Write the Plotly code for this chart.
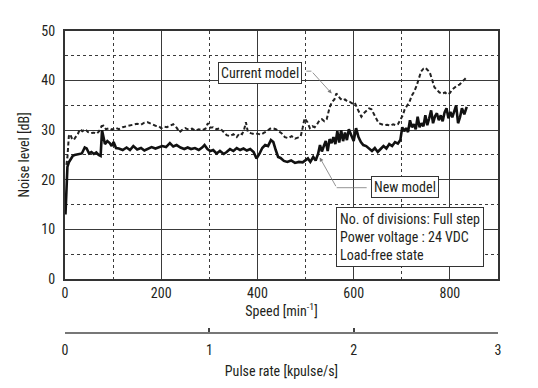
import plotly.graph_objects as go

# ---- data ----
new_x = [1, 3, 5, 8, 12, 16, 20, 25, 30, 35, 41, 45, 50, 55, 60, 65, 70, 74, 77, 80,
         83, 88, 93, 97, 101, 106, 112, 120, 128, 135, 142, 150, 158, 165, 172, 180, 188, 195, 202, 210,
         218, 225, 232, 240, 248, 255, 262, 270, 278, 285, 290, 296, 302, 308, 315, 322, 330, 336, 343, 350,
         357, 364, 371, 378, 385, 392, 398, 404, 410, 416, 422, 428, 433, 438, 443, 448, 455, 462, 470, 478,
         486, 494, 500, 505, 510, 516, 521, 526, 530, 534, 538, 542, 546, 550, 554, 558, 562, 566, 570, 574,
         578, 582, 586, 590, 595, 600, 605, 610, 615, 620, 626, 632, 638, 644, 650, 656, 662, 668, 674, 680,
         686, 692, 697, 701, 705, 709, 713, 717, 721, 725, 729, 733, 737, 741, 745, 749, 753, 757, 761, 765,
         769, 773, 777, 781, 785, 789, 793, 797, 801, 805, 809, 813, 817, 821, 825, 830, 835]
new_y = [13, 18, 22.6, 23.5, 24.2, 24.8, 25, 25.1, 25.2, 25.3, 26.5, 26.3, 25.3, 25.6, 25.2, 25.5, 25, 24.8, 30, 28.5,
         27.2, 27.8, 27.4, 26.8, 27.6, 26.4, 26.3, 26, 26.5, 26, 26.8, 26.1, 26.4, 25.9, 26.2, 26.6, 26.3, 26.5, 26.8, 26.6,
         27.4, 26.7, 27, 26.5, 26.2, 26.5, 26.2, 26.4, 26, 26.5, 27, 26.2, 25.8, 26, 25.3, 25.8, 25.2, 25.6, 26.2, 25.8,
         26.4, 26, 26.3, 25.9, 26.2, 25.6, 24.3, 25.2, 26.4, 27, 26.8, 28, 27.6, 26, 24.6, 24.4, 23.8, 23.6, 23.9, 23.4,
         23.6, 23.5, 23.9, 24.3, 23.6, 24.6, 23.9, 25.2, 27, 25.7, 26.8, 27.8, 25.8, 28.2, 27.4, 28.6, 27.2, 29.8, 27.5, 30,
         27.8, 29.5, 28, 30.2, 29, 27.8, 30.4, 28.6, 27.6, 27, 26.8, 26.2, 25.8, 26.4, 25.6, 26.2, 26.8, 26.3, 27.2, 26.8,
         27.6, 27.3, 28, 30.6, 29.8, 30.4, 29.6, 32, 30.6, 31.2, 30.2, 32.7, 30.6, 31.4, 30.8, 33, 31, 32.4, 34, 31.4,
         32.8, 33.4, 32, 33, 31.8, 33.6, 34.4, 32.4, 33.7, 32.6, 34, 35, 31.4, 32.6, 34.4, 33.2, 34.7]

cur_x = [3, 5, 8, 11, 14, 18, 22, 27, 31, 36, 42, 48, 54, 60, 66, 71, 76, 80, 85, 92,
         98, 105, 112, 120, 128, 135, 142, 150, 158, 165, 172, 180, 188, 195, 200, 206, 212, 218, 225, 232,
         238, 243, 250, 257, 264, 271, 278, 285, 292, 297, 302, 308, 315, 322, 329, 336, 343, 350, 357, 363,
         368, 372, 376, 380, 386, 393, 400, 407, 414, 420, 426, 432, 438, 444, 450, 457, 464, 471, 478, 484,
         490, 494, 498, 504, 509, 514, 519, 524, 529, 534, 539, 544, 550, 555, 560, 564, 568, 572, 577, 582,
         587, 592, 597, 602, 606, 611, 616, 621, 626, 632, 637, 642, 647, 652, 658, 664, 670, 676, 682, 688,
         692, 697, 702, 706, 711, 716, 721, 726, 731, 735, 740, 745, 749, 753, 758, 763, 768, 773, 778, 784,
         790, 795, 800, 805, 810, 815, 820, 825, 830, 835]
cur_y = [23, 24.5, 28.8, 29.2, 28.4, 28, 28.6, 29.3, 30.2, 29.8, 30.2, 29.6, 29.4, 29.5, 29.3, 29.8, 30.8, 30.9, 30.2, 30.4,
         30.1, 30.5, 30.2, 30.6, 30.8, 31, 31.2, 31.3, 31.1, 31.5, 31.6, 31.2, 30.9, 30.8, 30.4, 30.7, 30.6, 30.9, 31.2, 30.5,
         29.6, 30, 30.4, 30.1, 30.3, 29.9, 30.2, 30, 30.3, 31.4, 30.5, 30.6, 30.2, 30.4, 29.7, 29, 28.8, 29.2, 28.6, 29.4,
         29.2, 30, 31.6, 29.7, 29.4, 29.2, 29.3, 29.1, 29.5, 29.8, 30.3, 30.4, 30.2, 29.8, 29.4, 28.6, 28.4, 28.8, 28.3, 28.5,
         28.8, 30.5, 32.4, 31.6, 30.4, 30.8, 30.6, 31.2, 32, 32.2, 31.8, 32.2, 34.6, 35.7, 36.2, 37.4, 36.8, 36.4, 36, 36.2,
         35.8, 35.7, 35.4, 35.6, 34.7, 33.6, 32.7, 33.4, 33.8, 34.4, 34.2, 33.2, 32.4, 31.4, 31.2, 31, 31.1, 30.9, 31.2, 31,
         31.2, 32, 33, 34.2, 35, 35.7, 37, 37.8, 39, 40.5, 41.8, 42.4, 42.6, 42.2, 41.7, 40.2, 38.6, 38.2, 37.6, 37.4,
         37.6, 37.2, 37.5, 38.2, 38.6, 39, 39.2, 39.8, 40.2, 40.7]

assert len(new_x) == len(new_y), (len(new_x), len(new_y))
assert len(cur_x) == len(cur_y), (len(cur_x), len(cur_y))

speed_range = [0, 900]
noise_range = [0, 50]
pulse_range = [0, 3]

FONT = "Liberation Sans Narrow, Roboto Condensed, Arial Narrow, Liberation Sans, sans-serif"
TXT = "#231f20"
GRID = "#3a3a3a"

fig = go.Figure()
fig.add_trace(go.Scatter(x=cur_x, y=cur_y, mode="lines", name="Current model",
                         line=dict(color="#222", width=2, dash="4px,2.5px"), hoverinfo="skip"))
fig.add_trace(go.Scatter(x=new_x, y=new_y, mode="lines", name="New model",
                         line=dict(color="#111", width=2.6), hoverinfo="skip"))
# carrier for the pulse-rate axis
fig.add_trace(go.Scatter(x=pulse_range, y=[-10, -10], xaxis="x2", mode="lines",
                         line=dict(width=0), showlegend=False, hoverinfo="skip"))

ann = []
box = dict(bordercolor="#333", borderwidth=1, bgcolor="white", borderpad=2,
           font=dict(family=FONT, size=14, color=TXT))
ann.append(dict(x=404.8, y=41.5, xref="x", yref="y", text="Current model", showarrow=False, **box))
ann.append(dict(x=705.8, y=18.6, xref="x", yref="y", text="New model", showarrow=False, **box))
ann.append(dict(x=563, y=14.5, xref="x", yref="y", xanchor="left", yanchor="top", align="left",
                text="No. of divisions: Full step<br>Power voltage : 24 VDC<br>Load-free state",
                showarrow=False, bordercolor="#333", borderwidth=1, bgcolor="white", borderpad=3,
                font=dict(family=FONT, size=14, color=TXT)))
# leader arrows
ann.append(dict(x=554.3, y=37.4, ax=512.2, ay=41.9, xref="x", yref="y", axref="x", ayref="y",
                text="", showarrow=True, arrowhead=2, arrowsize=1, arrowwidth=0.8, arrowcolor="#777"))
ann.append(dict(x=529.4, y=24.5, ax=564.7, ay=18.4, xref="x", yref="y", axref="x", ayref="y",
                text="", showarrow=True, arrowhead=2, arrowsize=1, arrowwidth=0.8, arrowcolor="#777"))

shapes = [
    dict(type="line", xref="x", yref="y", x0=501.8, x1=512.2, y0=41.9, y1=41.9,
         line=dict(color="#777", width=0.8)),
    dict(type="line", xref="x", yref="y", x0=564.7, x1=627, y0=18.4, y1=18.4,
         line=dict(color="#777", width=0.8)),
]

# the page body adds an 8px offset, so the figure is drawn 8px smaller
fig.update_layout(
    width=530, height=380,
    margin=dict(l=57, r=40, t=23, b=55, autoexpand=False),
    paper_bgcolor="white", plot_bgcolor="white",
    showlegend=False,
    font=dict(family=FONT, size=14, color=TXT),
    annotations=ann, shapes=shapes,
    xaxis=dict(range=speed_range, dtick=200, tick0=0, showgrid=True, gridcolor=GRID, gridwidth=1,
               minor=dict(dtick=100, showgrid=True, gridcolor=GRID, griddash="dot", gridwidth=1),
               showline=True, mirror=True, linecolor="#333", linewidth=2, ticks="", zeroline=False,
               anchor="y", automargin=False,
               title=dict(text="Speed [min<sup>-1</sup>]", standoff=6, font=dict(size=14)),
               tickfont=dict(size=14)),
    yaxis=dict(range=noise_range, dtick=10, tick0=0, domain=[0.179, 1], showgrid=True, gridcolor=GRID,
               gridwidth=1, automargin=False, ticklabelstandoff=5,
               minor=dict(dtick=5, showgrid=True, gridcolor=GRID, griddash="dot", gridwidth=1),
               showline=True, mirror=True, linecolor="#333", linewidth=2, ticks="", zeroline=False,
               title=dict(text="Noise level [dB]", standoff=8, font=dict(size=14)),
               tickfont=dict(size=14)),
    xaxis2=dict(range=pulse_range, dtick=1, tick0=0, overlaying="x", anchor="free", position=0,
                side="bottom", showgrid=False, zeroline=False, showline=True, linecolor="#777",
                linewidth=2, ticks="inside", ticklen=4, tickwidth=1.5, tickcolor="#444",
                automargin=False, ticklabelstandoff=4,
                title=dict(text="Pulse rate [kpulse/s]", standoff=8, font=dict(size=14)),
                tickfont=dict(size=14)),
)

fig.write_html("out.html")
